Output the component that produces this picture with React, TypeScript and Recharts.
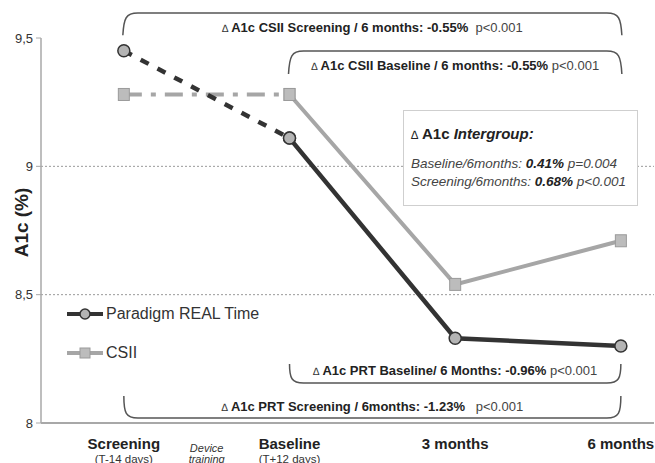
import {
  LineChart,
  Line,
  XAxis,
  YAxis,
  ReferenceLine,
  ReferenceArea,
} from 'recharts';

// time points that were measured, and where they sit on the time axis
const stages = ['Screening', 'Baseline', '3 months', '6 months'];
const stageX = [0, 1, 2, 3];

// mean A1c (%) per group
const prtA1c = [9.45, 9.11, 8.33, 8.3];
const csiiA1c = [9.28, 9.28, 8.54, 8.71];

// axis ticks
const xTicks = [0, 0.5, 1, 2, 3];
const xTickLabels = ['Screening', 'Device', 'Baseline', '3 months', '6 months'];
const xTickSubLabels = ['(T-14 days)', 'training', '(T+12 days)', '', ''];
const yTicks = [8, 8.5, 9, 9.5];

// change brackets: x span, y span (A1c units), label parts
const brackets = [
  { from: 0, to: 3, y1: 9.597, y2: 9.511, opens: 'down', label: 'A1c CSII Screening / 6 months: -0.55%', p: '  p<0.001' },
  { from: 1, to: 3, y1: 9.449, y2: 9.36, opens: 'down', label: 'A1c CSII Baseline / 6 months: -0.55%', p: ' p<0.001' },
  { from: 1, to: 3, y1: 8.23, y2: 8.156, opens: 'up', label: 'A1c PRT Baseline/ 6 Months: -0.96%', p: ' p<0.001' },
  { from: 0, to: 3, y1: 8.105, y2: 8.019, opens: 'up', label: 'A1c PRT Screening / 6months: -1.23%', p: '   p<0.001' },
];

const PRT_COLOR = '#333333';
const CSII_COLOR = '#a6a6a6';
const FONT = '"Liberation Sans", Arial, sans-serif';

const rows = stageX.map((x, i) => ({
  x,
  stage: stages[i],
  prtLead: i <= 1 ? prtA1c[i] : null,
  prt: i >= 1 ? prtA1c[i] : null,
  csiiLead: i <= 1 ? csiiA1c[i] : null,
  csii: i >= 1 ? csiiA1c[i] : null,
}));

const legendItems = [
  { name: 'Paradigm REAL Time', color: PRT_COLOR, marker: 'circle' },
  { name: 'CSII', color: CSII_COLOR, marker: 'square' },
];

function CircleDot(props: any) {
  const { cx, cy, index, value } = props;
  if (cy == null || value == null) return <g key={`c-${index}`} />;
  return <circle key={`c-${index}`} cx={cx} cy={cy} r={6} fill="#b4b4b4" stroke={PRT_COLOR} strokeWidth={1.5} />;
}

function SquareDot(props: any) {
  const { cx, cy, index, value } = props;
  if (cy == null || value == null) return <g key={`s-${index}`} />;
  return <rect key={`s-${index}`} x={cx - 5.5} y={cy - 6} width={11} height={12} fill="#bcbcbc" stroke="#9a9a9a" strokeWidth={1} />;
}

function TimeTick(props: any) {
  const { x, y, payload } = props;
  const i = xTicks.indexOf(payload.value);
  if (i < 0) return null;
  if (xTickLabels[i] === 'Device') {
    return (
      <g>
        <text x={x} y={y + 27} textAnchor="middle" fontSize={11} fontStyle="italic" fill="#333" fontFamily={FONT}>
          {xTickLabels[i]}
        </text>
        <text x={x} y={y + 38} textAnchor="middle" fontSize={11} fontStyle="italic" fill="#333" fontFamily={FONT}>
          {xTickSubLabels[i]}
        </text>
      </g>
    );
  }
  return (
    <g>
      <text x={x} y={y + 24} textAnchor="middle" fontSize={15} fontWeight="bold" fill="#222" fontFamily={FONT}>
        {xTickLabels[i]}
      </text>
      {xTickSubLabels[i] && (
        <text x={x} y={y + 38} textAnchor="middle" fontSize={11.5} fill="#333" fontFamily={FONT}>
          {xTickSubLabels[i]}
        </text>
      )}
    </g>
  );
}

function makeBracket(b: (typeof brackets)[number]) {
  return (props: any) => {
    const { x, y, width, height } = props;
    const x1 = x;
    const x2 = x + width;
    const r = 14;
    let d: string;
    let ty: number;
    if (b.opens === 'down') {
      const top = y;
      const end = y + height;
      d = `M${x1 - 1},${end} C${x1},${top + 5} ${x1 + 2},${top} ${x1 + r},${top} L${x2 - r},${top} C${x2 - 2},${top} ${x2},${top + 5} ${x2 + 1},${end}`;
      ty = top + 14;
    } else {
      const bottom = y + height;
      const end = y;
      d = `M${x1},${end} C${x1},${bottom - 5} ${x1 + 2},${bottom} ${x1 + r},${bottom} L${x2 - r},${bottom} C${x2 - 2},${bottom} ${x2},${bottom - 5} ${x2},${end}`;
      ty = bottom - 12;
    }
    return (
      <g>
        <path d={d} fill="none" stroke="#555" strokeWidth={1.5} />
        <text
          x={(x1 + x2) / 2}
          y={ty + 4.5}
          textAnchor="middle"
          fontSize={13}
          fill="#333"
          fontFamily={FONT}
          style={{ whiteSpace: 'pre' }}
        >
          <tspan fontStyle="italic" fontSize={10.5}>{'\u2206 '}</tspan>
          <tspan fontWeight="bold" fill="#222">{b.label}</tspan>
          <tspan fill="#444">{b.p}</tspan>
        </text>
      </g>
    );
  };
}

function LegendBox() {
  return (
    <div style={{ position: 'absolute', left: 66, top: 294, fontFamily: FONT }}>
      {legendItems.map((item) => (
        <div key={item.name} style={{ display: 'flex', alignItems: 'center', height: 39 }}>
          <svg width={38} height={14} style={{ marginRight: 2 }}>
            <line x1={1} y1={7} x2={37} y2={7} stroke={item.color} strokeWidth={4} />
            {item.marker === 'circle' ? (
              <circle cx={19} cy={7} r={5} fill="#b4b4b4" stroke={item.color} strokeWidth={1.5} />
            ) : (
              <rect x={14} y={2} width={10} height={10} fill="#bcbcbc" stroke="#9a9a9a" strokeWidth={1} />
            )}
          </svg>
          <span style={{ fontSize: 16, color: '#333' }}>{item.name}</span>
        </div>
      ))}
    </div>
  );
}

export default function App() {
  return (
    <div style={{ position: 'relative', width: 655, height: 463, background: '#fff', fontFamily: FONT, overflow: 'hidden' }}>
      <style>{'body{margin:0}'}</style>
      <LineChart width={655} height={463} data={rows} margin={{ top: 38, right: 1, left: 0, bottom: 0 }}>
        <XAxis
          type="number"
          dataKey="x"
          domain={[-0.5, 3.2]}
          ticks={xTicks}
          interval={0}
          allowDataOverflow
          tickLine={false}
          tickSize={0}
          tick={<TimeTick />}
          axisLine={{ stroke: '#a8a8a8', strokeWidth: 2 }}
          height={40}
        />
        <YAxis
          type="number"
          domain={[8, 9.5]}
          ticks={yTicks}
          interval={0}
          width={41}
          tickSize={5}
          tickMargin={3}
          axisLine={{ stroke: '#a8a8a8', strokeWidth: 1.5 }}
          tickLine={{ stroke: '#a8a8a8' }}
          tick={{ fill: '#333', fontSize: 13, fontFamily: FONT }}
          tickFormatter={(v: number) => String(v).replace('.', ',')}
          label={{
            content: ({ viewBox }: any) => {
              const cx = viewBox.x + viewBox.width / 2 + 1;
              const cy = viewBox.y + viewBox.height / 2 - 8;
              return (
                <text
                  x={cx}
                  y={cy}
                  transform={`rotate(-90 ${cx} ${cy})`}
                  textAnchor="middle"
                  dominantBaseline="central"
                  fontSize={19}
                  fontWeight="bold"
                  fill="#222"
                  fontFamily={FONT}
                >
                  A1c (%)
                </text>
              );
            },
          }}
        />
        <ReferenceLine y={9} stroke="#999" strokeDasharray="2 2" />
        <ReferenceLine y={8.5} stroke="#999" strokeDasharray="2 2" />
        {brackets.map((b, i) => (
          <ReferenceArea
            key={i}
            x1={b.from}
            x2={b.to}
            y1={b.y2}
            y2={b.y1}
            ifOverflow="visible"
            shape={makeBracket(b)}
          />
        ))}
        <Line
          dataKey="csiiLead"
          stroke={CSII_COLOR}
          strokeWidth={4}
          strokeDasharray="18 9 5 9"
          dot={SquareDot}
          isAnimationActive={false}
        />
        <Line
          dataKey="csii"
          stroke={CSII_COLOR}
          strokeWidth={4}
          dot={SquareDot}
          name="CSII"
          isAnimationActive={false}
        />
        <Line
          dataKey="prtLead"
          stroke={PRT_COLOR}
          strokeWidth={4.5}
          strokeDasharray="9 10"
          dot={CircleDot}
          isAnimationActive={false}
        />
        <Line
          dataKey="prt"
          stroke={PRT_COLOR}
          strokeWidth={4.5}
          dot={CircleDot}
          name="Paradigm REAL Time"
          isAnimationActive={false}
        />
      </LineChart>
      <LegendBox />
      <div
        style={{
          position: 'absolute',
          left: 403,
          top: 110,
          width: 235,
          height: 96,
          border: '1px solid #cfcfcf',
          background: '#fff',
          color: '#333',
          boxSizing: 'border-box',
          padding: '15px 0 0 7px',
          lineHeight: 1,
        }}
      >
        <div style={{ fontSize: 15, fontWeight: 'bold', color: '#222', marginBottom: 16 }}>
          <span style={{ fontStyle: 'italic', fontWeight: 'normal', fontSize: 12 }}>{'\u2206'}</span> A1c{' '}
          <i>Intergroup:</i>
        </div>
        <div style={{ fontSize: 13.5, fontStyle: 'italic', color: '#444', marginBottom: 4 }}>
          Baseline/6months: <b style={{ color: '#222' }}>0.41%</b> p=0.004
        </div>
        <div style={{ fontSize: 13.5, fontStyle: 'italic', color: '#444' }}>
          Screening/6months: <b style={{ color: '#222' }}>0.68%</b> p&lt;0.001
        </div>
      </div>
    </div>
  );
}
